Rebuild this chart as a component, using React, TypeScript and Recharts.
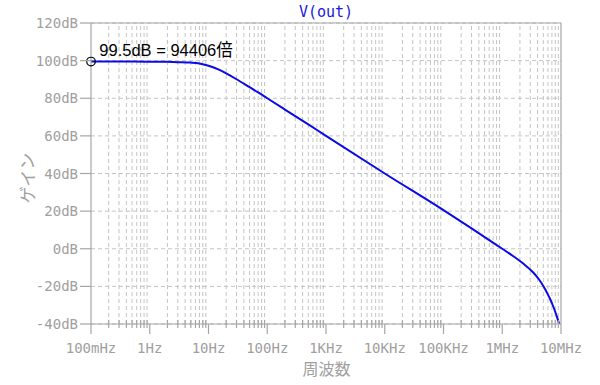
import React from 'react';
import { LineChart, Line, XAxis, YAxis, CartesianGrid, ReferenceLine, ReferenceDot } from 'recharts';

// Frequency (Hz) and gain (dB)
const freqs = [
  0.1, 0.3, 1, 2, 3, 5, 7, 10, 15, 20, 30, 50, 70, 100, 200, 500, 1000, 10000,
  100000, 300000, 600000, 1000000, 1500000, 2300000, 3400000, 4200000, 5000000,
  6000000, 6600000, 7300000, 8000000, 8600000, 9300000,
];
const gainDb = [
  99.5, 99.5, 99.45, 99.35, 99.2, 98.95, 98.5, 97.3, 95.2, 93.2, 90.1, 85.9, 83.1,
  80.0, 74.0, 66.1, 60.0, 40.0, 20.5, 10.8, 4.6, 0.0, -3.7, -8.0, -12.75, -16.2,
  -19.8, -24.4, -27.1, -30.3, -33.6, -36.5, -40.0,
];

const decadeTicks = [0.1, 1, 10, 100, 1e3, 1e4, 1e5, 1e6, 1e7];
const decadeLabels = ['100mHz', '1Hz', '10Hz', '100Hz', '1KHz', '10KHz', '100KHz', '1MHz', '10MHz'];
const minorMultipliers = [2, 3, 4, 5, 6, 7, 8, 9];
const yTicks = [-40, -20, 0, 20, 40, 60, 80, 100, 120];
const yUnit = 'dB';

const titleText = 'V(out)';
const xTitle = '周波数';
const yTitle = 'ゲイン';
const markerFreq = 0.1;
const markerDb = 99.5;
const markerText = '99.5dB = 94406倍';

const data = freqs.map((f, i) => ({ f, g: gainDb[i] }));
const minorTicks = decadeTicks
  .slice(0, -1)
  .flatMap((d) => minorMultipliers.map((m) => Number((d * m).toPrecision(6))));
const allXTicks = [...decadeTicks, ...minorTicks].sort((a, b) => a - b);

const AXIS = '#a6a6a6';
const GRID = '#c4c4c4';
const LABEL = '#a0a0a0';
const MONO = '"DejaVu Sans Mono", monospace';
const CJK = '"Noto Sans CJK JP", "Noto Sans", sans-serif';

const XTick = (props: any) => {
  const { x, y, payload } = props;
  const v = payload.value;
  const idx = decadeTicks.findIndex((d) => Math.abs(d - v) / d < 1e-6);
  if (idx >= 0) {
    return (
      <g>
        <line x1={x} x2={x} y1={y} y2={y + 10} stroke={AXIS} strokeWidth={1.2} />
        <text x={x} y={y + 29} textAnchor="middle" fontFamily={MONO} fontSize={14} fill={LABEL}>
          {decadeLabels[idx]}
        </text>
      </g>
    );
  }
  return <line x1={x} x2={x} y1={y - 4} y2={y + 4} stroke={AXIS} strokeWidth={1.2} />;
};

const YTick = (props: any) => {
  const { x, y, payload } = props;
  return (
    <g>
      <line x1={x - 11} x2={x} y1={y} y2={y} stroke={AXIS} strokeWidth={1.2} />
      <text x={x - 13} y={y + 5} textAnchor="end" fontFamily={MONO} fontSize={14} fill={LABEL}>
        {`${payload.value}${yUnit}`}
      </text>
    </g>
  );
};

const MarkerShape = (p: any) => (
  <g>
    <circle cx={p.cx} cy={p.cy} r={4.3} fill="none" stroke="#000" strokeWidth={1.2} />
    <text
      x={p.cx + 8.3}
      y={p.cy - 6}
      fontFamily={'"Liberation Sans", Arial, "Noto Sans CJK JP", sans-serif'}
      fontSize={16.5}
      fill="#000"
    >
      {markerText}
    </text>
  </g>
);

export default function App() {
  return (
    <div style={{ position: 'absolute', left: 0, top: 0, width: 600, height: 385, background: '#fff' }}>
      <LineChart width={600} height={385} data={data} margin={{ top: 23, right: 39, left: 0, bottom: 0 }}>
        <CartesianGrid vertical={false} stroke={GRID} strokeDasharray="4 3" />
        {minorTicks.map((m) => (
          <ReferenceLine key={m} x={m} stroke={GRID} strokeDasharray="4 3" />
        ))}
        <ReferenceLine y={120} stroke={AXIS} strokeWidth={1.2} />
        <ReferenceLine x={1e7} stroke={AXIS} strokeWidth={1.2} />
        <XAxis
          dataKey="f"
          type="number"
          scale="log"
          domain={[0.1, 1e7]}
          allowDataOverflow
          ticks={allXTicks}
          interval={0}
          height={61}
          tickSize={0}
          tickMargin={0}
          tickLine={false}
          axisLine={{ stroke: AXIS, strokeWidth: 1.2 }}
          tick={<XTick />}
        />
        <YAxis
          type="number"
          domain={[-40, 120]}
          allowDataOverflow
          ticks={yTicks}
          interval={0}
          width={91}
          tickSize={0}
          tickMargin={0}
          tickLine={false}
          axisLine={{ stroke: AXIS, strokeWidth: 1.2 }}
          tick={<YTick />}
        />
        <Line
          dataKey="g"
          type="monotone"
          stroke="#0a0ae6"
          strokeWidth={2}
          dot={false}
          isAnimationActive={false}
        />
        <ReferenceDot x={markerFreq} y={markerDb} r={4.3} ifOverflow="visible" shape={<MarkerShape />} />
      </LineChart>
      <svg
        width={600}
        height={385}
        style={{ position: 'absolute', left: 0, top: 0, pointerEvents: 'none' }}
      >
        <text x={326} y={17} textAnchor="middle" fontFamily={MONO} fontSize={15} fill="#1a1ae0">
          {titleText}
        </text>
        <text x={326.5} y={375} textAnchor="middle" fontFamily={CJK} fontSize={16} fill={LABEL}>
          {xTitle}
        </text>
        <text
          x={26}
          y={178}
          textAnchor="middle"
          dominantBaseline="central"
          transform="rotate(-90, 26, 178)"
          fontFamily={CJK}
          fontSize={17}
          fill={LABEL}
        >
          {yTitle}
        </text>
      </svg>
    </div>
  );
}
